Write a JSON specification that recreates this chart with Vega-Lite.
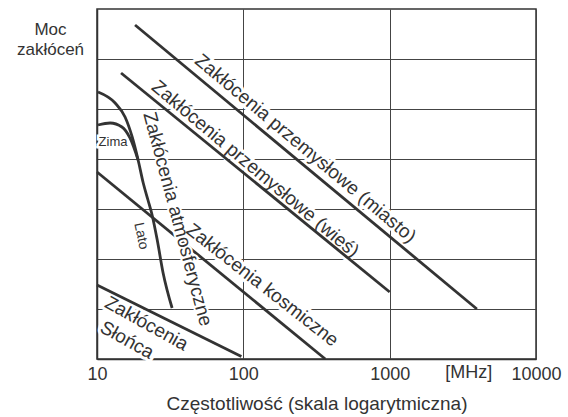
{
  "$schema": "https://vega.github.io/schema/vega-lite/v6.json",
  "autosize": "none",
  "padding": {"left": 97, "top": 9, "right": 32, "bottom": 58},
  "width": 439,
  "height": 350,
  "background": "white",
  "config": {
    "font": "Liberation Sans",
    "view": {"stroke": "#333", "strokeWidth": 1.5},
    "axis": {"domainColor": "#333", "domainWidth": 1.5, "gridColor": "#444", "gridWidth": 1, "gridOpacity": 1, "ticks": false, "labelColor": "#333", "titleColor": "#333", "labelFont": "Liberation Sans", "titleFont": "Liberation Sans", "titleFontWeight": "normal"}
  },
  "datasets": {
    "lines": [
      {"s": "miasto", "f": 18.2, "p": 6.68}, {"s": "miasto", "f": 3945, "p": 1.0},
      {"s": "wies", "f": 14.6, "p": 5.72}, {"s": "wies", "f": 1000, "p": 1.34},
      {"s": "kosmiczne", "f": 10, "p": 3.74}, {"s": "kosmiczne", "f": 363, "p": 0},
      {"s": "slonca", "f": 10, "p": 1.48}, {"s": "slonca", "f": 97, "p": 0.05},
      {"s": "lato", "f": 10.16, "p": 5.34}, {"s": "lato", "f": 13.3, "p": 5.12}, {"s": "lato", "f": 15.55, "p": 4.84}, {"s": "lato", "f": 17.4, "p": 4.44}, {"s": "lato", "f": 19.1, "p": 3.98}, {"s": "lato", "f": 20.7, "p": 3.52}, {"s": "lato", "f": 22.3, "p": 3.18}, {"s": "lato", "f": 23.8, "p": 2.88}, {"s": "lato", "f": 25.8, "p": 2.38}, {"s": "lato", "f": 28.3, "p": 1.72}, {"s": "lato", "f": 32.6, "p": 1.02},
      {"s": "zima", "f": 10.16, "p": 4.68}, {"s": "zima", "f": 12.3, "p": 4.72}, {"s": "zima", "f": 14.8, "p": 4.64}, {"s": "zima", "f": 16.8, "p": 4.42}, {"s": "zima", "f": 19.1, "p": 3.98}
    ],
    "labels": [
      {"g": "a40", "t": "Zakłócenia przemysłowe (miasto)", "f": 266, "p": 4.21},
      {"g": "a40", "t": "Zakłócenia przemysłowe (wieś)", "f": 121, "p": 3.8},
      {"g": "a38", "t": "Zakłócenia kosmiczne", "f": 135, "p": 1.48},
      {"g": "a75", "t": "Zakłócenia atmosferyczne", "f": 35.6, "p": 2.8},
      {"g": "a29", "t": "Zakłócenia", "f": 21.8, "p": 0.71},
      {"g": "a29", "t": "Słońca", "f": 16.05, "p": 0.38},
      {"g": "zima", "t": "Zima", "f": 12.87, "p": 4.34},
      {"g": "lato", "t": "Lato", "f": 20.0, "p": 2.46},
      {"g": "unit", "t": "[MHz]", "f": 3475, "p": -0.28}
    ]
  },
  "encoding": {
    "x": {"field": "f", "type": "quantitative", "scale": {"type": "log", "domain": [10, 10000]},
      "axis": {"values": [10, 100, 1000, 10000], "format": "d", "labelFlush": false, "labelOverlap": false, "labelFontSize": 18, "labelPadding": 6, "title": "Częstotliwość (skala logarytmiczna)", "titleFontSize": 19, "titlePadding": 11}},
    "y": {"field": "p", "type": "quantitative", "scale": {"domain": [0, 7], "nice": false},
      "axis": {"values": [1, 2, 3, 4, 5, 6], "labels": false, "title": ["Moc", "zakłóceń"], "titleAngle": 0, "titleAlign": "center", "titleBaseline": "alphabetic", "titleX": -47, "titleY": 25, "titleFontSize": 17, "titleLineHeight": 20}}
  },
  "layer": [
    {"data": {"name": "labels"}, "transform": [{"filter": "datum.g == 'a40'"}], "mark": {"type": "text", "angle": 40, "fontSize": 19, "stroke": "white", "strokeWidth": 6, "fill": "white"}, "encoding": {"text": {"field": "t"}}},
    {"data": {"name": "labels"}, "transform": [{"filter": "datum.g == 'a38'"}], "mark": {"type": "text", "angle": 38, "fontSize": 19, "stroke": "white", "strokeWidth": 6, "fill": "white"}, "encoding": {"text": {"field": "t"}}},
    {"data": {"name": "labels"}, "transform": [{"filter": "datum.g == 'a29'"}], "mark": {"type": "text", "angle": 29, "fontSize": 19, "stroke": "white", "strokeWidth": 6, "fill": "white"}, "encoding": {"text": {"field": "t"}}},
    {"data": {"name": "labels"}, "transform": [{"filter": "datum.g == 'lato'"}], "mark": {"type": "text", "angle": 78, "fontSize": 14, "stroke": "white", "strokeWidth": 5, "fill": "white"}, "encoding": {"text": {"field": "t"}}},
    {"data": {"name": "labels"}, "transform": [{"filter": "datum.g == 'zima'"}], "mark": {"type": "text", "angle": 0, "fontSize": 13, "stroke": "white", "strokeWidth": 5, "fill": "white"}, "encoding": {"text": {"field": "t"}}},
    {"data": {"name": "lines"}, "mark": {"type": "line", "color": "#333", "strokeWidth": 2.8, "interpolate": "monotone"}, "encoding": {"detail": {"field": "s"}}},
    {"data": {"name": "labels"}, "transform": [{"filter": "datum.g == 'a75'"}], "mark": {"type": "text", "angle": 75, "fontSize": 19, "stroke": "white", "strokeWidth": 4, "fill": "white"}, "encoding": {"text": {"field": "t"}}},
    {"data": {"name": "labels"}, "transform": [{"filter": "datum.g == 'a40'"}], "mark": {"type": "text", "angle": 40, "fontSize": 19, "fill": "#333"}, "encoding": {"text": {"field": "t"}}},
    {"data": {"name": "labels"}, "transform": [{"filter": "datum.g == 'a38'"}], "mark": {"type": "text", "angle": 38, "fontSize": 19, "fill": "#333"}, "encoding": {"text": {"field": "t"}}},
    {"data": {"name": "labels"}, "transform": [{"filter": "datum.g == 'a75'"}], "mark": {"type": "text", "angle": 75, "fontSize": 19, "fill": "#333"}, "encoding": {"text": {"field": "t"}}},
    {"data": {"name": "labels"}, "transform": [{"filter": "datum.g == 'a29'"}], "mark": {"type": "text", "angle": 29, "fontSize": 19, "fill": "#333"}, "encoding": {"text": {"field": "t"}}},
    {"data": {"name": "labels"}, "transform": [{"filter": "datum.g == 'lato'"}], "mark": {"type": "text", "angle": 78, "fontSize": 14, "fill": "#333"}, "encoding": {"text": {"field": "t"}}},
    {"data": {"name": "labels"}, "transform": [{"filter": "datum.g == 'zima'"}], "mark": {"type": "text", "angle": 0, "fontSize": 13, "fill": "#333"}, "encoding": {"text": {"field": "t"}}},
    {"data": {"name": "labels"}, "transform": [{"filter": "datum.g == 'unit'"}], "mark": {"type": "text", "angle": 0, "fontSize": 18, "fill": "#333", "clip": false}, "encoding": {"text": {"field": "t"}}}
  ]
}
